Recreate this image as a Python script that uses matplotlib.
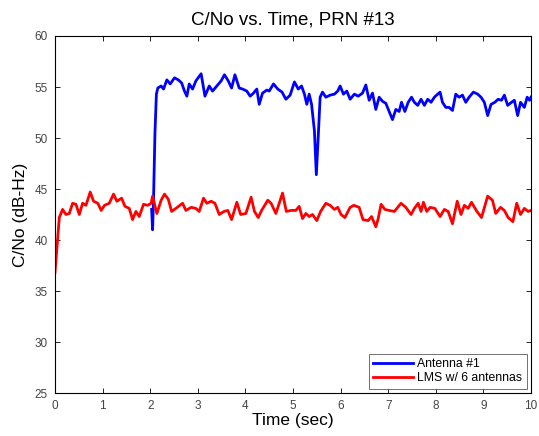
import matplotlib
matplotlib.use("Agg")
import matplotlib.pyplot as plt

plt.rcParams['font.family'] = ['Liberation Sans', 'DejaVu Sans']

title = "C/No vs. Time, PRN #13"
xlabel = "Time (sec)"
ylabel = "C/No (dB-Hz)"
legend_labels = ["Antenna #1", "LMS w/ 6 antennas"]
xticks = [0, 1, 2, 3, 4, 5, 6, 7, 8, 9, 10]
yticks = [25, 30, 35, 40, 45, 50, 55, 60]

# Red: LMS w/ 6 antennas
t_lms = [0.0, 0.09, 0.16, 0.23, 0.30, 0.37, 0.44, 0.51, 0.58, 0.65, 0.74, 0.81,
         0.90, 0.97, 1.04, 1.14, 1.23, 1.30, 1.40, 1.47, 1.56, 1.63, 1.70, 1.77,
         1.86, 1.95, 2.02, 2.05, 2.14, 2.23, 2.30, 2.38, 2.45, 2.54, 2.68, 2.75,
         2.86, 2.96, 3.03, 3.12, 3.19, 3.28, 3.36, 3.45, 3.55, 3.63, 3.71, 3.82,
         3.90, 4.01, 4.12, 4.19, 4.27, 4.34, 4.47, 4.54, 4.64, 4.78, 4.86, 4.96,
         5.06, 5.13, 5.20, 5.27, 5.34, 5.41, 5.50, 5.58, 5.69, 5.78, 5.87, 5.94,
         6.01, 6.09, 6.20, 6.28, 6.39, 6.47, 6.58, 6.65, 6.74, 6.79, 6.85, 6.93,
         7.02, 7.13, 7.27, 7.37, 7.48, 7.55, 7.63, 7.69, 7.74, 7.81, 7.88, 7.98,
         8.09, 8.18, 8.26, 8.35, 8.45, 8.53, 8.60, 8.68, 8.75, 8.85, 8.96, 9.09,
         9.19, 9.26, 9.36, 9.44, 9.52, 9.62, 9.70, 9.78, 9.86, 9.94, 10.0]
c_lms = [36.8, 42.2, 43.0, 42.5, 42.6, 43.6, 43.5, 42.5, 43.6, 43.4, 44.7, 43.8,
         43.6, 42.9, 43.4, 43.6, 44.5, 43.8, 44.1, 43.3, 43.1, 42.0, 42.8, 42.3,
         43.5, 43.4, 43.6, 44.3, 42.6, 43.9, 44.5, 44.0, 42.8, 43.1, 43.6, 42.9,
         43.2, 43.1, 42.8, 44.1, 43.6, 43.8, 43.6, 42.5, 42.8, 42.9, 42.0, 43.7,
         42.5, 42.6, 44.2, 42.8, 42.2, 42.9, 43.9, 43.6, 42.6, 44.6, 42.8, 42.9,
         42.9, 43.3, 42.1, 42.6, 42.3, 42.5, 41.9, 42.8, 43.6, 43.4, 43.0, 43.2,
         42.5, 42.2, 43.2, 43.4, 43.2, 42.0, 41.9, 42.3, 41.3, 42.1, 43.5, 43.0,
         42.9, 42.8, 43.6, 43.2, 42.5, 43.1, 43.6, 42.8, 43.7, 42.8, 43.2, 43.1,
         42.3, 43.0, 42.8, 41.6, 43.8, 42.5, 43.4, 43.1, 43.7, 42.9, 42.2, 44.3,
         43.9, 42.6, 43.2, 42.9, 42.2, 41.8, 43.6, 42.5, 43.1, 42.8, 42.9]

# Blue: Antenna #1
t_ant = [2.03, 2.05, 2.07, 2.10, 2.13, 2.16, 2.23, 2.28, 2.35, 2.42, 2.51, 2.59,
         2.66, 2.72, 2.77, 2.82, 2.89, 2.96, 3.07, 3.15, 3.24, 3.31, 3.40, 3.49,
         3.56, 3.64, 3.71, 3.78, 3.87, 3.94, 4.03, 4.10, 4.17, 4.24, 4.29, 4.36,
         4.45, 4.50, 4.59, 4.68, 4.77, 4.85, 4.94, 5.03, 5.11, 5.18, 5.24, 5.29,
         5.34, 5.39, 5.45, 5.49, 5.53, 5.57, 5.62, 5.69, 5.78, 5.87, 5.94, 5.99,
         6.06, 6.13, 6.20, 6.29, 6.37, 6.46, 6.53, 6.60, 6.67, 6.74, 6.81, 6.88,
         6.95, 7.02, 7.09, 7.16, 7.23, 7.28, 7.35, 7.42, 7.49, 7.55, 7.62, 7.69,
         7.76, 7.83, 7.90, 7.97, 8.04, 8.09, 8.14, 8.21, 8.28, 8.35, 8.42, 8.49,
         8.56, 8.63, 8.70, 8.79, 8.88, 8.95, 9.02, 9.09, 9.16, 9.24, 9.31, 9.38,
         9.44, 9.51, 9.59, 9.65, 9.72, 9.78, 9.86, 9.92, 9.97, 10.0]
c_ant = [43.0, 41.0, 44.0, 50.5, 54.3, 54.9, 55.1, 54.8, 55.7, 55.3, 55.9, 55.7,
         55.4, 54.6, 54.1, 55.3, 54.8, 55.6, 56.3, 54.1, 55.1, 54.6, 55.1, 55.6,
         56.2, 55.6, 54.9, 56.2, 54.9, 54.8, 54.6, 54.1, 54.4, 54.8, 53.3, 54.4,
         54.7, 54.6, 55.3, 54.8, 54.5, 53.8, 54.2, 55.5, 54.8, 55.1, 54.3, 53.3,
         54.3, 53.3, 50.7, 46.4, 50.1, 54.0, 54.5, 54.0, 54.2, 54.3, 54.6, 55.1,
         54.3, 54.6, 53.8, 54.3, 54.1, 54.4, 55.2, 53.7, 54.4, 52.8, 54.0, 53.6,
         53.4, 52.6, 51.8, 52.8, 52.6, 53.5, 52.6, 53.5, 54.0, 53.5, 53.2, 53.8,
         53.2, 53.8, 53.5, 54.0, 54.3, 54.5, 53.5, 53.0, 53.0, 52.7, 54.3, 54.0,
         54.2, 53.5, 54.0, 54.5, 54.3, 54.0, 53.5, 52.2, 53.3, 53.5, 53.8, 53.7,
         54.2, 53.2, 53.5, 53.7, 52.2, 53.5, 53.0, 54.0, 53.7, 54.0]

fig = plt.figure(figsize=(5.39, 4.36), dpi=100)
ax = fig.add_axes([55/539, 1 - 393/436, (531 - 55)/539, (393 - 36)/436])

ax.plot(t_ant, c_ant, color=(0, 0, 1), lw=2.0, label=legend_labels[0])
ax.plot(t_lms, c_lms, color=(1, 0, 0), lw=2.0, label=legend_labels[1])

ax.set_xlim(0, 10)
ax.set_ylim(25, 60)
ax.set_xticks(xticks)
ax.set_yticks(yticks)
ax.tick_params(direction='in', top=True, right=True, length=3.5, width=0.6,
               labelsize=8.5, labelcolor='#444444', pad=5)
for s in ax.spines.values():
    s.set_linewidth(0.8)

ax.set_title(title, fontsize=13.5, pad=8)
ax.set_xlabel(xlabel, fontsize=12.5, labelpad=0.5)
ax.set_ylabel(ylabel, fontsize=12.5, labelpad=5)

leg = ax.legend(loc='lower right', fontsize=8.8, frameon=True, fancybox=False,
                edgecolor='#333333', handlelength=3.3, borderaxespad=0.35,
                borderpad=0.35, labelspacing=0.2, handletextpad=0.35)
leg.get_frame().set_linewidth(0.6)

fig.savefig("out.png", dpi=100)
